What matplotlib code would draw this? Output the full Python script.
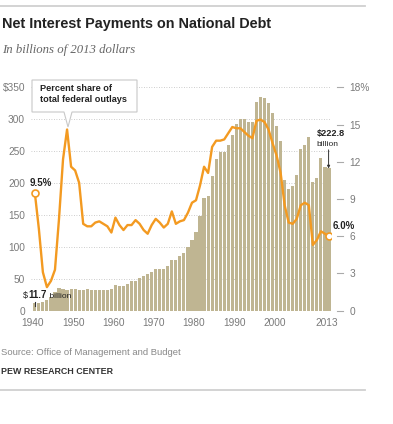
import matplotlib
matplotlib.use("Agg")
import matplotlib.pyplot as plt
import matplotlib.transforms as mtransforms
from matplotlib.lines import Line2D
from matplotlib.patches import Polygon
from matplotlib.offsetbox import TextArea, HPacker, AnnotationBbox

# Net interest, billions of 2013 dollars, fiscal years 1940-2013
years = list(range(1940, 2014))
interest_billions = [
    11.7, 12, 13, 17, 22, 30, 35, 34, 33, 34,
    34, 32, 32, 34, 32, 32, 32, 33, 33, 34,
    40, 39, 39, 42, 46, 47, 51, 54, 57, 61,
    66, 65, 65, 70, 79, 80, 86, 91, 100, 110,
    123, 148, 176, 179, 211, 238, 249, 248, 259, 275,
    292, 301, 301, 295, 295, 327, 335, 334, 326, 309,
    290, 266, 205, 191, 196, 213, 254, 259, 272, 201,
    208, 240, 225, 222.8,
]
# Net interest as percent share of total federal outlays
share_pct = [
    9.5, 6.6, 3.1, 1.9, 2.4, 3.3, 7.4, 12.2, 14.6, 11.6,
    11.3, 10.3, 7.0, 6.8, 6.8, 7.1, 7.2, 7.0, 6.8, 6.3,
    7.5, 6.9, 6.5, 6.9, 6.9, 7.3, 7.0, 6.5, 6.2, 6.9,
    7.4, 7.1, 6.7, 7.0, 8.0, 7.0, 7.2, 7.3, 7.9, 8.7,
    8.9, 10.1, 11.6, 11.1, 13.2, 13.7, 13.7, 13.8, 14.3, 14.8,
    14.7, 14.7, 14.4, 14.1, 13.9, 15.3, 15.4, 15.2, 14.6, 13.5,
    12.5, 11.1, 8.5, 7.1, 7.0, 7.4, 8.5, 8.7, 8.5, 5.3,
    5.7, 6.4, 6.2, 6.0,
]
left_ticks = [0, 50, 100, 150, 200, 250, 300, 350]
left_labels = ["0", "50", "100", "150", "200", "250", "300", "$350"]
right_ticks = [0, 3, 6, 9, 12, 15, 18]
right_labels = ["0", "3", "6", "9", "12", "15", "18%"]
x_ticks = [1940, 1950, 1960, 1970, 1980, 1990, 2000, 2013]

W, H = 393, 424
BAR = "#BFB592"
ORANGE = "#F39A21"
GRAY = "#7a7a7a"
DARK = "#222222"
SANS = "Liberation Sans"


def fy(y_px):
    return 1 - y_px / H


fig = plt.figure(figsize=(W / 100, H / 100), dpi=100)
ax = fig.add_axes([31.2 / W, fy(310.7), 299.8 / W, 223.4 / H])

centers = [y + 0.5 for y in years]
ax.bar(centers, interest_billions, width=0.78, color=BAR, linewidth=0, zorder=2)
ax.set_xlim(1939.6, 2014.0)
ax.set_ylim(0, 350)
ax.set_axisbelow(True)
ax.yaxis.grid(True, linestyle=(0, (1, 2)), color="#bdbdbd", linewidth=0.6)
for s in ax.spines.values():
    s.set_visible(False)
ax.set_yticks(left_ticks, left_labels)
ax.set_xticks(x_ticks)
ax.tick_params(axis="y", length=0, pad=4.5, labelsize=7.3, labelcolor=GRAY)
ax.tick_params(axis="x", length=0, pad=5, labelsize=7.3, labelcolor=GRAY)

ax2 = ax.twinx()
ax2.set_ylim(0, 18)
ax2.plot(centers, share_pct, color=ORANGE, linewidth=1.7, solid_joinstyle="round", zorder=3)
ax2.plot([centers[0], centers[-1]], [share_pct[0], share_pct[-1]], "o", ms=5,
         mfc="white", mec=ORANGE, mew=1.2, zorder=4)
for s in ax2.spines.values():
    s.set_visible(False)
ax2.set_yticks(right_ticks, right_labels)
ax2.tick_params(axis="y", length=0, pad=13.5, labelsize=7.3, labelcolor=GRAY)
ax2.set_xlim(1939.6, 2014.0)

# little dashes in front of the right-hand labels
dash_tr = mtransforms.blended_transform_factory(ax2.transAxes, ax2.transData)
for t in right_ticks:
    ax2.add_line(Line2D([1.02, 1.04], [t, t], transform=dash_tr, color="#aaaaaa",
                        linewidth=0.8, clip_on=False))

# end labels
ax2.text(1939.3, 10.3, "9.5%", fontsize=7, fontweight="bold", color=DARK,
         family=SANS, ha="left", va="center")
ax2.text(2014.5, 6.85, "6.0%", fontsize=7, fontweight="bold", color=DARK,
         family=SANS, ha="left", va="center", clip_on=False)

ax.text(2010.4, 277, "$222.8", fontsize=6.6, fontweight="bold", color=DARK,
        family=SANS, ha="left", va="center", clip_on=False)
ax.text(2010.4, 261, "billion", fontsize=6, color=DARK, family=SANS,
        ha="left", va="center", clip_on=False)
ax.annotate("", xy=(2013.4, interest_billions[-1]), xytext=(2013.4, 252),
            arrowprops=dict(arrowstyle="-|>", color="#333333", lw=0.7,
                            mutation_scale=4, shrinkA=0, shrinkB=0), zorder=5)

first = HPacker(children=[
    TextArea("$", textprops=dict(fontsize=6.5, color=DARK, family=SANS)),
    TextArea("11.7", textprops=dict(fontsize=7, fontweight="bold", color=DARK, family=SANS)),
    TextArea(" billion", textprops=dict(fontsize=6, color=DARK, family=SANS)),
], align="baseline", pad=0, sep=0)
ax.add_artist(AnnotationBbox(first, (1937.6, 24.6), xycoords="data", frameon=False,
                             box_alignment=(0, 0.5), pad=0, annotation_clip=False, zorder=5))
ax.plot([centers[0], centers[0]], [7.5, 13.6], color="#333333", linewidth=0.8, zorder=5)

# callout box for the line
box_px = [(32, 80), (137, 80), (137, 112), (72, 112), (68, 127), (64, 112), (32, 112)]
fig.add_artist(Polygon([(x / W, fy(y)) for x, y in box_px], closed=True,
                       transform=fig.transFigure, facecolor="white",
                       edgecolor="#c8c8c8", linewidth=0.8, zorder=5))
fig.text(39.5 / W, fy(94), "Percent share of\ntotal federal outlays", fontsize=6.6,
         fontweight="bold", color=DARK, family=SANS, ha="left", va="center",
         linespacing=1.25, zorder=6)

# header / footer
fig.add_artist(Line2D([0, 365 / W], [fy(6), fy(6)], color="#d0d0d0", linewidth=1.3))
fig.add_artist(Line2D([0, 365 / W], [fy(390), fy(390)], color="#d0d0d0", linewidth=1.3))
fig.text(2 / W, fy(24), "Net Interest Payments on National Debt", fontsize=10.4,
         fontweight="bold", color=DARK, family=SANS, ha="left", va="center")
fig.text(2 / W, fy(50), "In billions of 2013 dollars", fontsize=9.2, style="italic",
         color="#666666", family="Liberation Serif", ha="left", va="center")
fig.text(1 / W, fy(352.5), "Source: Office of Management and Budget", fontsize=6.8,
         color="#888888", family=SANS, ha="left", va="center")
fig.text(1 / W, fy(371.5), "PEW RESEARCH CENTER", fontsize=6.4, fontweight="bold",
         color="#333333", family=SANS, ha="left", va="center")

for lab in ax.get_xticklabels() + ax.get_yticklabels() + ax2.get_yticklabels():
    lab.set_family(SANS)

fig.savefig("out.png", dpi=100)
